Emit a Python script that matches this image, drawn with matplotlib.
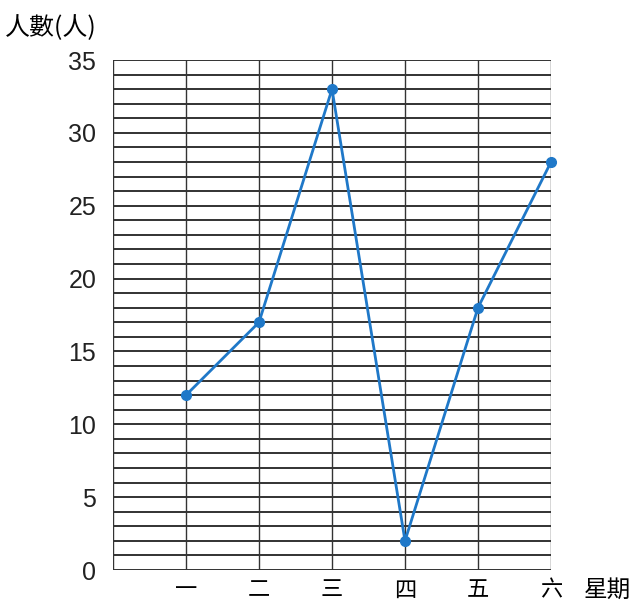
import matplotlib.pyplot as plt
import numpy as np

# 資料
days = ['一', '二', '三', '四', '五', '六']
people = [12, 17, 33, 2, 18, 28]

plt.rcParams['font.family'] = ['Noto Sans CJK TC', 'DejaVu Sans']

fig = plt.figure(figsize=(6.33, 6.01), dpi=100)
ax = fig.add_axes([113/633, 1-570/601, (551-113)/633, (570-60)/601])

x = np.arange(1, len(days) + 1)

# grille
for yy in range(0, 36):
    ax.axhline(yy, color='#222222', lw=1.3, zorder=1)
for xx in range(0, 7):
    ax.axvline(xx, color='#333333', lw=1.0, zorder=1)

ax.plot(x, people, color='#1f78c8', lw=2, marker='o', ms=7, zorder=3, clip_on=False)

ax.set_xlim(0, 6)
ax.set_ylim(0, 35)
ax.set_yticks(range(0, 36, 5))
ax.set_yticklabels([str(v) for v in range(0, 36, 5)], family='Liberation Sans', fontsize=18, color='#222222')
ax.set_xticks(x)
ax.set_xticklabels(days, fontsize=16)
ax.tick_params(axis='y', length=0, pad=12)
ax.tick_params(axis='x', length=0, pad=6)
for s in ax.spines.values():
    s.set_visible(False)

fig.text(5/633, 1-28/601, '人數(人)', fontsize=18, va='center', ha='left')
fig.text(584/633, 1-590/601, '星期', fontsize=17, va='center', ha='left')

fig.savefig('out.png', dpi=100)
